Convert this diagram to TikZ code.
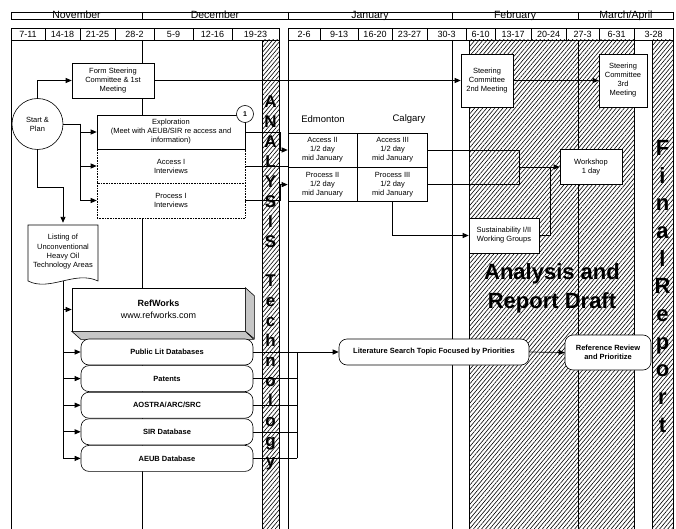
\documentclass[tikz,border=0pt]{standalone}
\usepackage{fontspec}
\setmainfont{Liberation Sans}
\usetikzlibrary{shapes,patterns,patterns.meta,calc,positioning,arrows.meta}

\tikzset{
  box/.style={draw, fill=white, line width=0.6pt, align=center, inner sep=0pt,
    font=\fontsize{7.5}{9}\selectfont},
  dotbox/.style={box, densely dotted},
  pill/.style={box, rounded corners=8pt, minimum width=172pt, minimum height=26pt,
    font=\bfseries\fontsize{7.5}{9}\selectfont},
  hatch/.style={draw, line width=0.6pt,
    pattern={Lines[angle=50,distance=3.1pt,line width=0.6pt]}},
  conn/.style={line width=0.9pt, -{Triangle[length=6pt,width=5pt]}},
  link/.style={line width=0.9pt},
  thinlink/.style={line width=0.6pt},
  week/.style={draw, line width=0.6pt, inner sep=0pt, minimum height=12pt,
    font=\fontsize{9}{10}\selectfont},
  month/.style={inner sep=0pt, anchor=base, font=\fontsize{10.5}{11}\selectfont},
  bigtxt/.style={align=center, inner sep=0pt, anchor=north,
    font=\bfseries\fontsize{17}{19.9}\selectfont},
}

\begin{document}
\begin{tikzpicture}[x=1pt,y=-1pt]
    \useasboundingbox (0,0) rectangle (676,529);
    % Hatched phases
    \draw[hatch] (262,40) rectangle (279,529);
    \draw[hatch] (469,40) rectangle (634,529);
    \draw[hatch] (652,40) rectangle (673,529);
    % Month columns
    \draw[line width=0.6pt] (11,40) -- (11,529) (142,40) -- (142,529)
        (288,40) -- (288,529) (452,40) -- (452,529) (578,40) -- (578,529);
    % Months
    \draw[line width=0.6pt] (11,12) rectangle (673,19);
    \draw[line width=1pt] (11,12) -- (11,19) (142,12) -- (142,19) (288,12) -- (288,19)
        (452,12) -- (452,19) (578,12) -- (578,19);
    \node[month] (nov) at (76.5,19) {November};
    \node[month] (dec) at (215,19) {December};
    \node[month] (jan) at (370,19) {January};
    \node[month] (feb) at (515,19) {February};
    \node[month] (mar) at (626,19) {March/April};
    % Weeks
    \foreach \l/\r/\t in {11/45/7-11, 45/80/14-18, 80/115/21-25, 115/154/28-2,
        154/193/5-9, 193/232/12-16, 232/279/19-23, 288/320/2-6, 320/358/9-13,
        358/392/16-20, 392/427/23-27, 427/466/30-3, 466/495/6-10, 495/531/13-17,
        531/566/20-24, 566/599/27-3, 599/634/6-31, 634/673/3-28}
        \node[week, minimum width={\r-\l}] (w\l) at ({(\l+\r)/2},34) {\t};

    % Steering committee
    \node[box, minimum width=82pt, minimum height=35pt] (steer1) at (113,80.5)
        {Form Steering\\Committee \& 1st\\Meeting};
    \node[box, minimum width=52pt, minimum height=53pt] (steer2) at (487,80.5)
        {Steering\\Committee\\2nd Meeting};
    \node[box, minimum width=48pt, minimum height=53pt] (steer3) at (623,80.5)
        {Steering\\Committee\\3rd\\Meeting};
    \node[box, circle, minimum size=51pt] (start) at (37.5,124) {Start \&\\Plan};

    % Interviews
    \node[dotbox, minimum width=148pt, minimum height=34pt] (access1) at (171,166)
        {Access I\\Interviews};
    \node[dotbox, minimum width=148pt, minimum height=35pt] (process1) at (171,200.5)
        {Process I\\Interviews};
    \node[box, minimum width=148pt, minimum height=34pt] (explore) at (171,132)
        {Exploration\\(Meet with AEUB/SIR re access and\\information)};
    \node[box, circle, minimum size=17pt, font=\bfseries\fontsize{7}{8}\selectfont]
        (one) at (245,114) {1};

    \node[font=\fontsize{9.5}{11}\selectfont] (edm) at (323,119) {Edmonton};
    \node[font=\fontsize{9.5}{11}\selectfont] (cal) at (409,119) {Calgary};
    \node[box, minimum width=69pt, minimum height=34pt] (acc2) at (322.5,150)
        {Access II\\1/2 day\\mid January};
    \node[box, minimum width=70pt, minimum height=34pt, right=0pt of acc2] (acc3)
        {Access III\\1/2 day\\mid January};
    \node[box, minimum width=69pt, minimum height=34pt, below=0pt of acc2] (proc2)
        {Process II\\1/2 day\\mid January};
    \node[box, minimum width=70pt, minimum height=34pt, right=0pt of proc2] (proc3)
        {Process III\\1/2 day\\mid January};

    \node[box, minimum width=62pt, minimum height=35pt] (workshop) at (591,167)
        {Workshop\\1 day};
    \node[box, minimum width=70pt, minimum height=35pt] (sustain) at (504,235.5)
        {Sustainability I/II\\Working Groups};

    % Listing (document shape)
    \path[draw, fill=white, line width=0.6pt] (28,225) -- (98,225) -- (98,281)
        .. controls (75,270) and (50,292) .. (28,281) -- cycle;
    \node[align=center, inner sep=0pt, minimum width=70pt, minimum height=58pt,
        font=\fontsize{7.5}{9.3}\selectfont] (listing) at (63,252)
        {Listing of\\Unconventional\\Heavy Oil\\Technology Areas};

    % RefWorks and databases
    \node[box, minimum width=173pt, minimum height=43pt, font=\fontsize{9}{12}\selectfont]
        (refworks) at (158.5,309.5) {\textbf{RefWorks}\\www.refworks.com};
    \draw[fill=gray!45, line width=0.6pt] (refworks.north east) -- ++(9,8) -- ++(0,43)
        -- (refworks.south east) -- cycle;
    \draw[fill=gray!45, line width=0.6pt] (refworks.south west) -- ++(9,8) -- ++(173,0)
        -- (refworks.south east) -- cycle;
    \node[pill] (public) at (167,352) {Public Lit Databases};
    \node[pill, below=0pt of public] (patents) {Patents};
    \node[pill, below=0pt of patents] (aostra) {AOSTRA/ARC/SRC};
    \node[pill, below=0pt of aostra] (sir) {SIR Database};
    \node[pill, below=0pt of sir] (aeub) {AEUB Database};

    \node[pill, minimum width=190pt] (litsearch) at (434,352)
        {Literature Search Topic Focused by Priorities};
    \node[pill, minimum width=86pt, minimum height=35pt] (refreview) at (608,352.5)
        {Reference Review\\and Prioritize};

    % Connectors
    \draw[conn] (start.north) |- (steer1.west);
    \draw[conn] (steer1.east) -- (steer2.west);
    \draw[conn] (steer2.east) -- (steer3.west);
    \draw[link] (start.east) -- ++(17,0) coordinate (fork);
    \draw[conn] (fork) |- (explore.west);
    \draw[conn] (fork) |- (access1.west);
    \draw[conn] (fork) |- (process1.west);
    \draw[conn] (start.south) -- ++(0,37.5) -| (listing.north);
    \draw[conn] (listing.south) |- (refworks.west);
    \draw[conn] (listing.south) |- (public.west);
    \draw[conn] (listing.south) |- (patents.west);
    \draw[conn] (listing.south) |- (aostra.west);
    \draw[conn] (listing.south) |- (sir.west);
    \draw[conn] (listing.south) |- (aeub.west);

    \coordinate (bus) at (280,0);
    \draw[conn] (explore.east) -| (bus |- acc2.west) -- (acc2.west);
    \draw[conn] (process1.east) -| (bus |- proc2.west) -- (proc2.west);
    \draw[link] (access1.east) -- (access1.east -| acc2.west);

    \coordinate (join) at (519,167);
    \coordinate (merge) at (550,167);
    \draw[link] (acc3.east) -| (join) |- (proc3.east);
    \draw[conn] (join) -- (workshop.west);
    \draw[conn] (proc3.south) |- (sustain.west);
    \draw[link] (sustain.east) -| (merge);

    \coordinate (dbbus) at (297,0);
    \draw[thinlink] (public.east) -- (public.east -| dbbus);
    \draw[thinlink] (patents.east) -- (patents.east -| dbbus);
    \draw[thinlink] (aostra.east) -- (aostra.east -| dbbus);
    \draw[thinlink] (sir.east) -- (sir.east -| dbbus);
    \draw[thinlink] (aeub.east) -- (aeub.east -| dbbus);
    \draw[link] (aeub.east -| dbbus) -- (public.east -| dbbus);
    \draw[conn] (public.east -| dbbus) -- (litsearch.west);
    \draw[conn, line width=0.7pt] (litsearch.east) -- (refreview.west);

    % Phase labels
    \node[bigtxt] (analysis) at (270.5,96)
        {A\\N\\A\\L\\Y\\S\\I\\S\\[19.9pt]T\\e\\c\\h\\n\\o\\l\\o\\g\\y};
    \node[bigtxt, font=\bfseries\fontsize{22}{27.7}\selectfont] (final) at (662.5,140)
        {F\\i\\n\\a\\l\\R\\e\\p\\o\\r\\t};
    \node[align=center, inner sep=0pt, font=\bfseries\fontsize{22}{29}\selectfont]
        (draft) at (552,288) {Analysis and\\Report Draft};
\end{tikzpicture}
\end{document}
